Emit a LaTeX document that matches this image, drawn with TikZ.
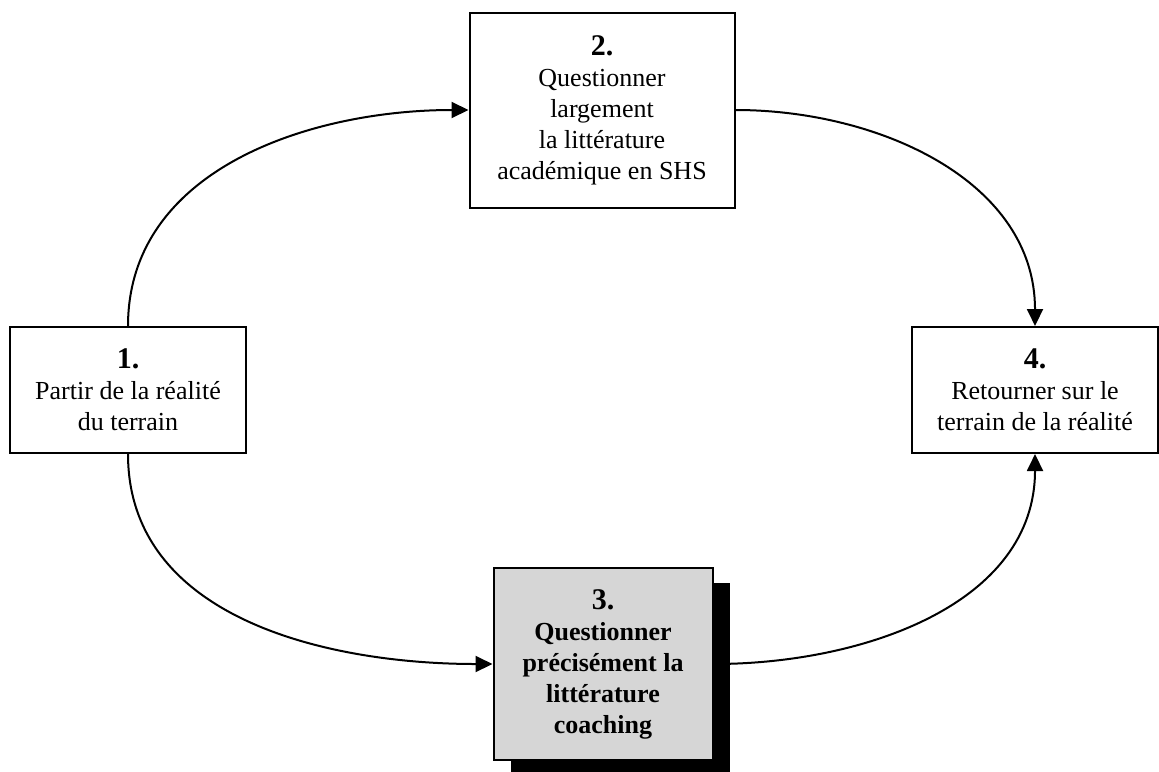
\documentclass[tikz,border=0pt]{standalone}
\usepackage{fontspec}
\setmainfont{Liberation Serif}
\usetikzlibrary{arrows.meta,shadows}
\definecolor{stepgray}{RGB}{214,214,214}
\newcommand\stepnum[1]{{\fontsize{15}{17}\selectfont\bfseries #1}}

\begin{document}
\begin{tikzpicture}[x=0.5pt,y=-0.5pt,
    box/.style={draw=black, line width=1pt, align=center, inner sep=0pt,
      font=\fontsize{13}{15.5}\selectfont},
    flow/.style={line width=1pt, -{Triangle[length=8.5pt,width=8pt]}}]
  \useasboundingbox (0,0) rectangle (1159,771);

  % Steps
  \node[box, minimum width=118pt, minimum height=63pt] (partir) at (128,390)
    {\stepnum{1.}\\Partir de la réalité\\du terrain};
  \node[box, minimum width=132.5pt, minimum height=97.5pt] (largement) at (602,110)
    {\stepnum{2.}\\Questionner\\largement\\la littérature\\académique en SHS};
  \node[box, fill=stepgray, font=\fontsize{13}{15.5}\selectfont\bfseries,
    minimum width=109.5pt, minimum height=96pt,
    drop shadow={shadow xshift=8.5pt, shadow yshift=-7.5pt, fill=black, opacity=1}]
    (coaching) at (603,664)
    {\stepnum{3.}\\Questionner\\précisément la\\littérature\\coaching};
  \node[box, minimum width=123pt, minimum height=63pt] (retour) at (1035,390)
    {\stepnum{4.}\\Retourner sur le\\terrain de la réalité};

  % Cycle
  \draw[flow] (partir.north) to[out=90, in=180] (largement.west);
  \draw[flow] (largement.east) to[out=0, in=90] (retour.north);
  \draw[flow] (partir.south) to[out=-90, in=180] (coaching.west);
  \draw[flow] (coaching.east) to[out=0, in=-90] (retour.south);
\end{tikzpicture}
\end{document}
